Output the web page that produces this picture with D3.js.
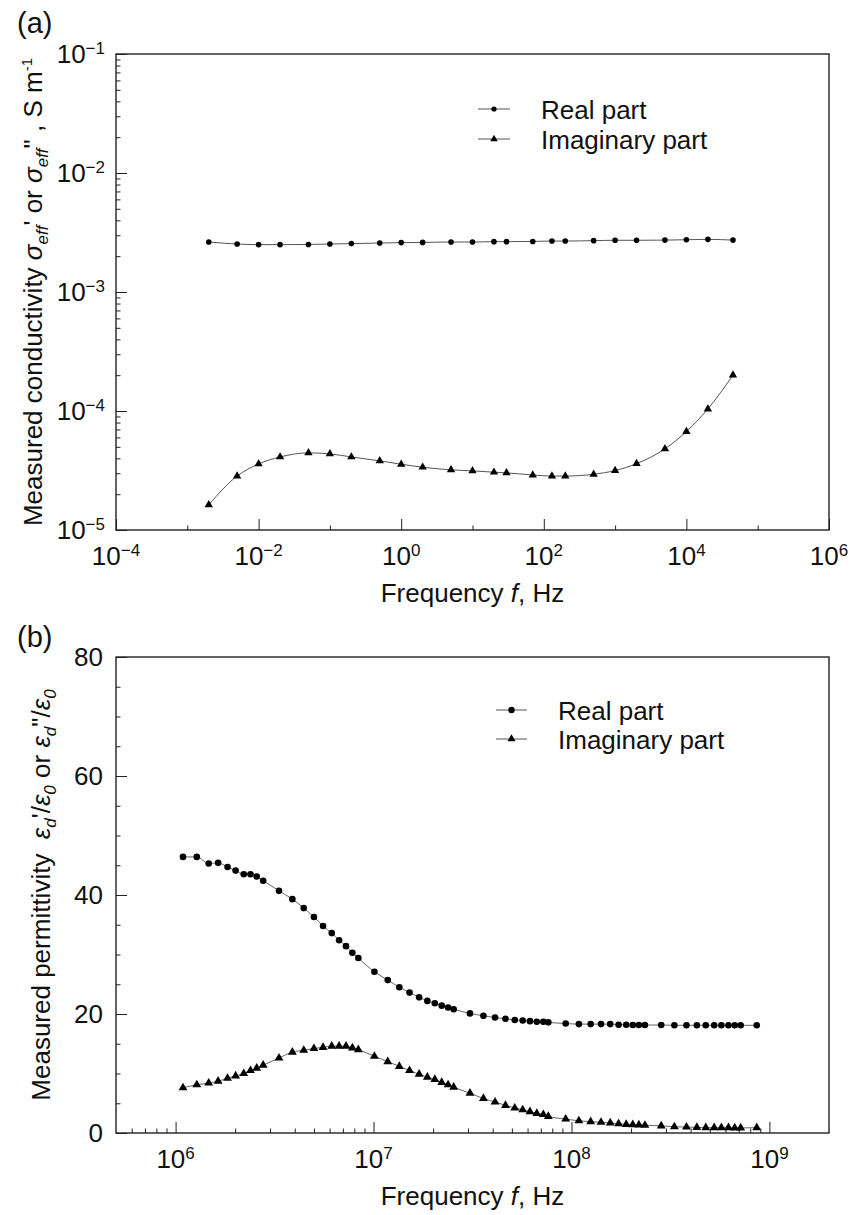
<!DOCTYPE html>
<html>
<head>
<meta charset="utf-8">
<script src="https://cdn.jsdelivr.net/npm/d3@7/dist/d3.min.js"></script>
<style>
    body { margin: 0; background: #fff; }
    svg text { font-family: "Liberation Sans", Arial, Helvetica, sans-serif; fill: #111; }
</style>
</head>
<body>
<svg id="chart" width="863" height="1215"></svg>
<script>
// ---- panel (a): conductivity ----
var freqA = [0.002, 0.005, 0.01, 0.02, 0.05, 0.1, 0.2, 0.5, 1, 2, 5, 10, 20, 30, 70, 130, 200,
    500, 1000, 2000, 5000, 10000, 20000, 45000];
var realA = [2.63e-3, 2.53e-3, 2.50e-3, 2.50e-3, 2.51e-3, 2.53e-3, 2.55e-3, 2.58e-3, 2.60e-3, 2.61e-3,
    2.63e-3, 2.63e-3, 2.65e-3, 2.65e-3, 2.66e-3, 2.68e-3, 2.68e-3, 2.70e-3, 2.72e-3, 2.72e-3,
    2.73e-3, 2.75e-3, 2.77e-3, 2.73e-3];
var imagA = [1.63e-5, 2.84e-5, 3.59e-5, 4.11e-5, 4.45e-5, 4.36e-5, 4.11e-5, 3.81e-5, 3.57e-5, 3.37e-5,
    3.20e-5, 3.14e-5, 3.06e-5, 3.02e-5, 2.90e-5, 2.84e-5, 2.84e-5, 2.94e-5, 3.16e-5, 3.61e-5,
    4.81e-5, 6.72e-5, 1.04e-4, 2.00e-4];
var xDomainA = [1e-4, 1e6];
var yDomainA = [1e-5, 1e-1];
var xLabelExpA = [-4, -2, 0, 2, 4, 6];
var xOddExpA = [-3, -1, 1, 3, 5];
var yLabelExpA = [-5, -4, -3, -2, -1];

// ---- panel (b): permittivity ----
var freqB = [1.09e6, 1.28e6, 1.47e6, 1.64e6, 1.83e6, 2.01e6, 2.21e6, 2.39e6, 2.57e6, 2.77e6,
    3.33e6, 3.89e6, 4.44e6, 5.0e6, 5.56e6, 6.15e6, 6.70e6, 7.26e6, 7.82e6, 8.38e6,
    1.01e7, 1.18e7, 1.35e7, 1.52e7, 1.70e7, 1.87e7, 2.04e7, 2.21e7, 2.38e7, 2.54e7,
    3.07e7, 3.59e7, 4.11e7, 4.64e7, 5.17e7, 5.67e7, 6.17e7, 6.68e7, 7.21e7, 7.64e7,
    9.35e7, 1.09e8, 1.25e8, 1.41e8, 1.57e8, 1.73e8, 1.89e8, 2.04e8, 2.19e8, 2.35e8,
    2.84e8, 3.31e8, 3.81e8, 4.30e8, 4.77e8, 5.26e8, 5.72e8, 6.21e8, 6.68e8, 7.16e8,
    8.63e8];
var realB = [46.4, 46.4, 45.3, 45.4, 44.7, 44.1, 43.5, 43.5, 43.1, 42.4,
    40.7, 39.3, 37.8, 36.3, 34.8, 33.6, 32.4, 31.4, 30.3, 29.4,
    27.1, 25.7, 24.5, 23.6, 22.8, 22.2, 21.8, 21.4, 21.1, 20.8,
    20.1, 19.7, 19.4, 19.2, 19.0, 18.9, 18.8, 18.7, 18.7, 18.6,
    18.4, 18.3, 18.3, 18.3, 18.3, 18.2, 18.2, 18.15, 18.15, 18.15,
    18.15, 18.1, 18.1, 18.1, 18.1, 18.1, 18.1, 18.1, 18.1, 18.1,
    18.1];
var imagB = [7.6, 8.1, 8.4, 8.7, 9.2, 9.6, 10.0, 10.5, 10.9, 11.4,
    12.6, 13.6, 13.9, 14.2, 14.4, 14.6, 14.6, 14.6, 14.3, 14.0,
    12.9, 12.0, 11.2, 10.5, 9.9, 9.4, 9.0, 8.5, 8.1, 7.7,
    6.7, 5.8, 5.2, 4.65, 4.2, 3.9, 3.6, 3.3, 3.1, 2.8,
    2.35, 2.05, 1.9, 1.8, 1.7, 1.55, 1.45, 1.4, 1.35, 1.3,
    1.2, 1.05, 1.0, 0.95, 0.9, 0.9, 0.9, 0.9, 0.85, 0.85,
    0.9];
var xDomainB = [5e5, 2e9];
var yDomainB = [0, 80];
var xLabelExpB = [6, 7, 8, 9];
var yLabelsB = [0, 20, 40, 60, 80];
var seriesNames = ["Real part", "Imaginary part"];

var svg = d3.select("#chart");
var left = 116, right = 829;
var majorLen = 11, minorLen = 4.5;
var tickFont = 26;
var lineColor = "#555";

function zip(xs, ys) {
    return xs.map(function (d, i) { return [d, ys[i]]; });
}

// "10" with a raised exponent
function powLabel(text, exp) {
    text.append("tspan").text("10");
    text.append("tspan")
        .attr("dy", -9)
        .attr("font-size", 17)
        .text(exp < 0 ? "\u2212" + (-exp) : exp);
}

function tickAxis(g, axis, values, len) {
    g.call(axis.tickValues(values).tickSize(-len).tickFormat(""));
    g.select(".domain").remove();
    g.selectAll(".tick line").attr("stroke", "#222").attr("stroke-width", 1);
}

function frame(top, bottom) {
    svg.append("rect")
        .attr("x", left).attr("y", top)
        .attr("width", right - left).attr("height", bottom - top)
        .attr("fill", "none").attr("stroke", "#222").attr("stroke-width", 1.4);
}

function drawSeries(x, y, data, shape, r, width) {
    var line = d3.line()
        .x(function (d) { return x(d[0]); })
        .y(function (d) { return y(d[1]); })
        .curve(d3.curveMonotoneX);

    svg.append("path")
        .datum(data)
        .attr("d", line)
        .attr("fill", "none")
        .attr("stroke", lineColor)
        .attr("stroke-width", width);

    if (shape === "circle") {
        svg.append("g").selectAll("circle")
            .data(data).enter().append("circle")
            .attr("cx", function (d) { return x(d[0]); })
            .attr("cy", function (d) { return y(d[1]); })
            .attr("r", r)
            .attr("fill", "#000");
    } else {
        var sym = d3.symbol().type(d3.symbolTriangle).size(r);
        svg.append("g").selectAll("path")
            .data(data).enter().append("path")
            .attr("d", sym)
            .attr("transform", function (d) { return "translate(" + x(d[0]) + "," + y(d[1]) + ")"; })
            .attr("fill", "#000");
    }
}

function legend(x1, x2, yReal, yImag, textX, circleR, triSize) {
    [yReal, yImag].forEach(function (yy, i) {
        svg.append("line")
            .attr("x1", x1).attr("x2", x2).attr("y1", yy).attr("y2", yy)
            .attr("stroke", lineColor).attr("stroke-width", 1);
        if (i === 0) {
            svg.append("circle").attr("cx", (x1 + x2) / 2).attr("cy", yy).attr("r", circleR).attr("fill", "#000");
        } else {
            svg.append("path").attr("d", d3.symbol().type(d3.symbolTriangle).size(triSize))
                .attr("transform", "translate(" + (x1 + x2) / 2 + "," + yy + ")").attr("fill", "#000");
        }
        svg.append("text")
            .attr("x", textX).attr("y", yy + 10)
            .attr("font-size", 26)
            .text(seriesNames[i]);
    });
}

function xTitle(cy) {
    var t = svg.append("text")
        .attr("x", (left + right) / 2).attr("y", cy)
        .attr("text-anchor", "middle")
        .attr("font-size", 26);
    t.append("tspan").text("Frequency ");
    t.append("tspan").attr("font-style", "italic").text("f");
    t.append("tspan").text(", Hz");
}

// ================= panel (a) =================
function drawPanelA() {
    var top = 54, bottom = 530;
    var x = d3.scaleLog().domain(xDomainA).range([left, right]);
    var y = d3.scaleLog().domain(yDomainA).range([bottom, top]);

    var majorX = xLabelExpA.map(function (e) { return Math.pow(10, e); });
    var oddX = xOddExpA.map(function (e) { return Math.pow(10, e); });
    var majorY = yLabelExpA.map(function (e) { return Math.pow(10, e); });
    var minorY = [];
    yLabelExpA.slice(0, -1).forEach(function (e) {
        for (var k = 2; k <= 9; k++) minorY.push(k * Math.pow(10, e));
    });

    tickAxis(svg.append("g").attr("transform", "translate(0," + bottom + ")"), d3.axisBottom(x), majorX, majorLen);
    tickAxis(svg.append("g").attr("transform", "translate(0," + bottom + ")"), d3.axisBottom(x), oddX, minorLen);
    tickAxis(svg.append("g").attr("transform", "translate(" + left + ",0)"), d3.axisLeft(y), majorY, majorLen);
    tickAxis(svg.append("g").attr("transform", "translate(" + left + ",0)"), d3.axisLeft(y), minorY, minorLen);
    frame(top, bottom);

    xLabelExpA.forEach(function (e) {
        var t = svg.append("text")
            .attr("x", x(Math.pow(10, e))).attr("y", bottom + 35)
            .attr("text-anchor", "middle").attr("font-size", tickFont);
        powLabel(t, e);
    });
    yLabelExpA.forEach(function (e) {
        var t = svg.append("text")
            .attr("x", left - 11).attr("y", y(Math.pow(10, e)) + 9)
            .attr("text-anchor", "end").attr("font-size", tickFont);
        powLabel(t, e);
    });

    drawSeries(x, y, zip(freqA, realA), "circle", 2.8, 1);
    drawSeries(x, y, zip(freqA, imagA), "triangle", 30, 1);

    legend(478, 510, 109, 139, 541, 2.6, 24);
    xTitle(bottom + 72);

    // y title
    var t = svg.append("text")
        .attr("transform", "translate(42," + (top + bottom) / 2 + ") rotate(-90)")
        .attr("text-anchor", "middle")
        .attr("font-size", 26);
    t.append("tspan").text("Measured conductivity ");
    t.append("tspan").attr("font-style", "italic").text("\u03c3");
    t.append("tspan").attr("font-style", "italic").attr("font-size", 17).attr("dy", 6).text("eff");
    t.append("tspan").attr("dy", -6).text("'");
    t.append("tspan").text(" or ");
    t.append("tspan").attr("font-style", "italic").text("\u03c3");
    t.append("tspan").attr("font-style", "italic").attr("font-size", 17).attr("dy", 6).text("eff");
    t.append("tspan").attr("dy", -6).text("\"");
    t.append("tspan").text(" , S m");
    t.append("tspan").attr("font-size", 15).attr("dy", -10).text("-1");

    svg.append("text").attr("x", 17).attr("y", 33).attr("font-size", 29).text("(a)");
}

// ================= panel (b) =================
function drawPanelB() {
    var top = 657, bottom = 1133;
    var x = d3.scaleLog().domain(xDomainB).range([left, right]);
    var y = d3.scaleLinear().domain(yDomainB).range([bottom, top]);

    var majorX = xLabelExpB.map(function (e) { return Math.pow(10, e); });
    var minorX = [];
    [5, 6, 7, 8, 9].forEach(function (e) {
        for (var k = 2; k <= 9; k++) {
            var v = k * Math.pow(10, e);
            if (v > xDomainB[0] && v < xDomainB[1]) minorX.push(v);
        }
    });
    var minorY = d3.range(5, 80, 5).filter(function (v) { return v % 20 !== 0; });

    tickAxis(svg.append("g").attr("transform", "translate(0," + bottom + ")"), d3.axisBottom(x), majorX, majorLen);
    tickAxis(svg.append("g").attr("transform", "translate(0," + bottom + ")"), d3.axisBottom(x), minorX, minorLen);
    tickAxis(svg.append("g").attr("transform", "translate(" + left + ",0)"), d3.axisLeft(y), yLabelsB, majorLen);
    tickAxis(svg.append("g").attr("transform", "translate(" + left + ",0)"), d3.axisLeft(y), minorY, minorLen);
    frame(top, bottom);

    xLabelExpB.forEach(function (e) {
        var t = svg.append("text")
            .attr("x", x(Math.pow(10, e))).attr("y", bottom + 35)
            .attr("text-anchor", "middle").attr("font-size", tickFont);
        powLabel(t, e);
    });
    yLabelsB.forEach(function (v) {
        svg.append("text")
            .attr("x", left - 13).attr("y", y(v) + 9)
            .attr("text-anchor", "end").attr("font-size", tickFont)
            .text(v);
    });

    drawSeries(x, y, zip(freqB, realB), "circle", 3.3, 0.9);
    drawSeries(x, y, zip(freqB, imagB), "triangle", 34, 0.9);

    legend(496, 527, 710, 739, 558, 3.2, 28);
    xTitle(bottom + 72);

    var t = svg.append("text")
        .attr("transform", "translate(50," + (top + bottom) / 2 + ") rotate(-90)")
        .attr("text-anchor", "middle")
        .attr("font-size", 26);
    t.append("tspan").text("Measured permittivity\u00a0\u00a0");
    t.append("tspan").attr("font-style", "italic").text("\u03b5");
    t.append("tspan").attr("font-style", "italic").attr("font-size", 17).attr("dy", 6).text("d");
    t.append("tspan").attr("dy", -6).text("'/");
    t.append("tspan").attr("font-style", "italic").text("\u03b5");
    t.append("tspan").attr("font-style", "italic").attr("font-size", 17).attr("dy", 6).text("0");
    t.append("tspan").attr("dy", -6).text(" or ");
    t.append("tspan").attr("font-style", "italic").text("\u03b5");
    t.append("tspan").attr("font-style", "italic").attr("font-size", 17).attr("dy", 6).text("d");
    t.append("tspan").attr("dy", -6).text("\"/");
    t.append("tspan").attr("font-style", "italic").text("\u03b5");
    t.append("tspan").attr("font-style", "italic").attr("font-size", 17).attr("dy", 6).text("0");

    svg.append("text").attr("x", 17).attr("y", 647).attr("font-size", 29).text("(b)");
}

drawPanelA();
drawPanelB();
</script>
</body>
</html>
